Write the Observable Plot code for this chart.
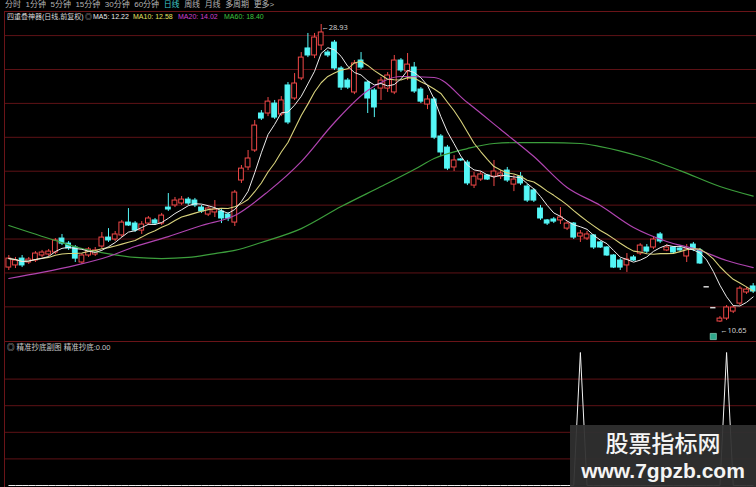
<!DOCTYPE html>
<html>
<head>
<meta charset="utf-8">
<script src="https://cdn.jsdelivr.net/npm/d3@7"></script>
<script src="https://cdn.jsdelivr.net/npm/@observablehq/plot@0.6"></script>
<style>
  html, body { margin: 0; padding: 0; background: #000; }
  #wrap { position: relative; width: 756px; height: 487px; background: #000; overflow: hidden;
          font-family: "Liberation Sans", "Noto Sans CJK SC", sans-serif; }
  .abs { position: absolute; white-space: nowrap; }
  #menu { left: 5px; top: 0px; font-size: 8px; line-height: 10px; color: #b4b4b4; }
  #menu span { margin-right: 4.5px; }
  #menu span.on { color: #3fcaca; }
  .hline { position: absolute; height: 1px; background: #6a1418; }
  .vline { position: absolute; width: 1px; background: #6a1418; }
  .leg { top: 12px; font-size: 7px; line-height: 9px; }
  #main { left: 0; top: 22px; }
  #sub { left: 0; top: 342px; }
  #subTitle { left: 7px; top: 343px; font-size: 7.5px; line-height: 9px; color: #c8c8c8; }
  #mark { left: 570px; top: 425px; width: 186px; height: 62px; background: rgba(48,48,48,0.94);
          color: #f4f4f4; text-align: center; }
  #mark .cn { position: absolute; left: 0; right: 0; top: 1px; font-family: "Noto Sans CJK SC", sans-serif;
              font-size: 23px; font-weight: 500; line-height: 32px; }
  #mark .url { position: absolute; left: 0; right: 0; top: 33px; font-family: "Liberation Sans", sans-serif;
               font-size: 21px; font-weight: bold; line-height: 26px; }
</style>
</head>
<body>
<div id="wrap">
  <div id="menu" class="abs"></div>
  <div class="hline" style="left:4px;right:0;top:11px;"></div>
  <div class="vline" style="left:4px;top:11px;height:476px;"></div>
  <div id="legend"></div>
  <div id="main" class="abs"></div>
  <div class="hline" style="left:4px;right:0;top:341px;"></div>
  <div id="sub" class="abs"></div>
  <div id="subTitle" class="abs"></div>
  <div id="mark" class="abs"><div class="cn">股票指标网</div><div class="url">www.7gpzb.com</div></div>
</div>
<script>
// Period menu
const menuItems = ["分时", "1分钟", "5分钟", "15分钟", "30分钟", "60分钟", "日线", "周线", "月线", "多周期", "更多>"];
const activePeriod = "日线";

// Daily candles
const opens = [14.02,14.15,14.57,14.33,14.45,14.76,14.82,14.94,15.80,15.49,
  15.25,14.33,14.76,14.82,15.31,15.86,15.74,15.99,16.78,16.72,
  16.29,16.72,16.91,16.72,17.70,17.83,17.95,18.19,18.13,17.70,
  17.27,17.40,17.46,17.27,16.78,19.36,20.16,21.20,23.47,23.47,
  24.08,23.41,25.19,24.39,25.62,27.46,27.03,27.64,27.21,27.82,
  26.23,25.49,24.76,26.72,25.37,24.88,25.00,25.00,24.76,26.72,
  26.05,26.29,24.94,24.02,24.33,22.06,21.38,20.16,20.65,20.46,
  19.05,19.42,19.67,19.60,19.60,19.97,19.11,19.60,18.99,18.75,
  17.64,16.91,16.97,16.91,16.41,16.72,15.92,15.80,15.99,15.56,
  15.25,14.76,14.45,14.15,14.64,14.88,15.25,15.25,16.05,15.07,
  15.25,15.19,14.70,15.43,15.07,12.84,11.56,10.71,10.89,11.32,
  11.81,12.49,12.86];
const closes = [14.57,14.45,14.15,14.51,14.88,14.94,15.00,15.68,15.49,15.19,
  14.57,14.76,15.13,15.07,15.86,15.68,16.05,16.78,16.60,16.29,
  16.66,17.03,16.72,17.21,17.58,18.13,18.19,17.95,17.83,17.46,
  17.64,17.58,17.03,17.03,18.62,20.09,20.71,22.73,23.16,24.20,
  23.22,24.27,22.92,25.31,26.90,27.03,28.13,28.44,27.03,26.23,
  25.06,25.06,26.54,26.29,24.39,23.84,25.49,25.80,26.72,26.11,
  26.47,24.82,24.20,24.33,21.99,21.08,20.09,20.59,20.59,19.18,
  19.60,19.73,19.42,19.91,19.79,19.36,19.42,19.18,18.13,18.13,
  17.03,16.72,16.84,17.09,16.72,15.86,16.11,16.05,15.25,15.25,
  14.76,14.02,14.02,14.51,14.45,15.37,15.00,15.74,15.62,15.25,
  14.94,15.07,15.13,15.13,14.27,12.84,11.56,10.89,11.57,11.57,
  12.73,12.67,12.55];
const highs = [14.76,14.64,14.76,14.64,15.00,15.07,15.13,15.80,16.05,15.62,
  15.37,14.88,15.25,15.25,16.17,16.41,16.23,16.91,17.64,16.84,
  16.84,17.15,17.03,17.34,18.56,18.32,18.38,18.32,18.26,17.83,
  17.76,18.13,17.58,17.40,18.75,20.28,21.20,23.04,23.65,24.45,
  24.27,24.51,25.37,25.92,27.21,28.38,28.38,28.93,27.33,27.95,
  26.35,25.62,26.72,27.21,25.49,25.00,25.68,25.98,27.03,26.84,
  27.15,26.60,25.06,24.57,24.45,22.18,21.51,20.89,20.71,20.59,
  19.85,19.91,19.73,20.59,19.97,20.16,19.67,19.85,19.11,18.87,
  17.83,16.97,17.09,17.70,16.84,16.78,16.29,16.23,16.05,15.62,
  15.31,14.82,14.57,14.88,14.76,15.49,15.43,15.92,16.17,15.43,
  15.31,15.31,15.43,15.56,15.19,12.84,11.56,11.01,11.69,11.69,
  12.86,12.80,13.04];
const lows = [13.84,13.96,14.02,14.21,14.33,14.64,14.70,14.82,15.37,15.07,
  14.33,14.21,14.64,14.70,15.19,15.56,15.62,15.86,16.54,16.17,
  16.05,16.60,16.60,16.60,17.46,17.70,17.83,17.83,17.70,17.34,
  17.15,17.09,16.72,16.84,16.54,19.18,19.97,21.08,23.04,23.28,
  23.10,23.28,22.79,24.27,25.49,26.90,26.84,27.33,26.90,26.11,
  24.88,24.94,24.63,26.17,23.47,23.22,24.27,24.76,24.63,25.98,
  25.49,24.70,24.08,23.71,21.87,20.83,19.97,19.91,20.52,19.05,
  18.87,19.30,19.36,18.99,19.42,19.24,18.68,19.05,18.01,18.01,
  16.91,16.60,16.72,16.66,16.29,15.74,15.56,15.68,15.13,15.19,
  14.70,13.96,13.84,13.72,14.39,14.76,14.88,15.13,15.49,15.00,
  14.88,15.00,14.33,15.00,14.21,12.84,11.56,10.65,10.77,11.20,
  11.69,12.37,12.43];

// MA20 / MA60 readings at selected bars (these averages reach back before the first bar shown)
const ma20Bars = [0,5,10,15,19,24,29,34,39,44,49,54,59,64,69,74,79,84,89,94,99,104,108,112];
const ma20Values = [13.35,13.72,14.15,14.70,15.31,15.92,16.60,17.21,18.68,20.52,22.92,24.88,25.74,25.68,24.14,22.49,20.83,18.93,17.83,16.48,15.62,15.07,14.45,14.02];
const ma60Bars = [0,7,11,14,19,23,27,31,34,38,44,50,56,61,64,69,73,77,81,86,89,95,101,107,112];
const ma60Values = [16.60,15.68,15.19,14.94,14.64,14.57,14.64,14.88,15.07,15.56,16.41,17.76,18.99,20.03,20.71,21.32,21.63,21.69,21.69,21.63,21.44,20.83,19.97,18.99,18.40];

// Horizontal guide levels of the price panel
const gridLevels = [28.25, 26.17, 24.09, 22.01, 19.93, 17.85, 15.77, 13.69, 11.61];

// Bottom-fishing signal in the lower panel
const signalBars = [86, 108];
const signalValues = [100, 100];
const subGridLevels = [20, 40, 60, 80];
const markerBars = [106];

const UP = "#f04848", DOWN = "#54f6f6", FLAT = "#d8d8d8", GRID = "#5e1216";
const C5 = "#ececec", C10 = "#d8d27c", C20 = "#b044b0", C60 = "#3c9e3c";

const N = closes.length;
const bars = d3.range(N).map(i => ({i, open: opens[i], close: closes[i], high: highs[i], low: lows[i]}));
const colorOf = d => d.close > d.open ? UP : d.close < d.open ? DOWN : FLAT;
const ma20 = ma20Bars.map((b, k) => ({i: b, v: ma20Values[k]}));
const ma60 = ma60Bars.map((b, k) => ({i: b, v: ma60Values[k]}));
const hiBar = bars.reduce((a, b) => b.high > a.high ? b : a);
const loBar = bars.reduce((a, b) => b.low < a.low ? b : a);

// Header rows
document.getElementById("menu").innerHTML = menuItems
  .map(t => `<span class="${t === activePeriod ? "on" : ""}">${t}</span>`).join("");

const fmt = d3.format(".2f");
const legendItems = [
  {text: "四重叠神器(日线,前复权)", color: "#d8d8d8", left: 7},
  {text: "◎", color: "#bdbdbd", left: 85},
  {text: "MA5: " + fmt(d3.mean(closes.slice(-5))), color: C5, left: 93},
  {text: "MA10: " + fmt(d3.mean(closes.slice(-10))), color: "#e4e062", left: 133},
  {text: "MA20: " + fmt(ma20Values[ma20Values.length - 1]), color: "#d040d0", left: 178},
  {text: "MA60: " + fmt(ma60Values[ma60Values.length - 1]), color: "#3fc43f", left: 224}
];
document.getElementById("legend").innerHTML = legendItems
  .map(d => `<div class="abs leg" style="left:${d.left}px;color:${d.color}">${d.text}</div>`).join("");

// Price panel
const mainChart = Plot.plot({
  width: 756, height: 320,
  marginLeft: 5, marginRight: 0, marginTop: 2, marginBottom: 20,
  style: {background: "transparent", overflow: "visible"},
  x: {domain: [-0.5, N - 0.5], axis: null},
  y: {domain: [loBar.low, hiBar.high], axis: null},
  marks: [
    Plot.ruleY(gridLevels, {stroke: GRID, strokeWidth: 1}),
    Plot.ruleX(bars, {x: "i", y1: "low", y2: "high", stroke: colorOf, strokeWidth: 1}),
    Plot.rect(bars.filter(d => d.open !== d.close), {
      x1: d => d.i - 0.36, x2: d => d.i + 0.36, y1: "open", y2: "close",
      fill: d => d.close > d.open ? "#000" : DOWN, stroke: colorOf, strokeWidth: 1
    }),
    Plot.ruleY(bars.filter(d => d.open === d.close), {
      y: "close", x1: d => d.i - 0.4, x2: d => d.i + 0.4, stroke: FLAT, strokeWidth: 1.5
    }),
    Plot.line(ma60, {x: "i", y: "v", stroke: C60, strokeWidth: 1.2, curve: "monotone-x"}),
    Plot.line(ma20, {x: "i", y: "v", stroke: C20, strokeWidth: 1.2, curve: "monotone-x"}),
    Plot.line(bars, Plot.windowY({k: 10, anchor: "end"}, {x: "i", y: "close", stroke: C10, strokeWidth: 1.1})),
    Plot.line(bars, Plot.windowY({k: 5, anchor: "end"}, {x: "i", y: "close", stroke: C5, strokeWidth: 1})),
    Plot.text([hiBar], {x: "i", y: "high", text: d => "←" + fmt(d.high), textAnchor: "start",
      dx: 0, dy: 3, fill: "#cfcfcf", fontSize: 7.5}),
    Plot.text([loBar], {x: "i", y: "low", text: d => "←" + fmt(d.low), textAnchor: "start",
      dx: 0, dy: 8, fill: "#cfcfcf", fontSize: 7.5}),
    Plot.dot(markerBars, {x: d => d, frameAnchor: "bottom", dy: 14, symbol: "square", r: 3.5,
      fill: "#2fa88c", stroke: "#9fe8d0", strokeWidth: 0.6})
  ]
});
document.getElementById("main").appendChild(mainChart);

// Indicator panel
const signal = d3.range(N).map(i => ({i, v: 0}));
signalBars.forEach((b, k) => { signal[b].v = signalValues[k]; });
document.getElementById("subTitle").textContent =
  "◎ 精准抄底副图  精准抄底:" + fmt(signal[N - 1].v);

const subChart = Plot.plot({
  width: 756, height: 145,
  marginLeft: 5, marginRight: 0, marginTop: 10, marginBottom: 2,
  style: {background: "transparent", overflow: "visible"},
  x: {domain: [-0.5, N - 0.5], axis: null},
  y: {domain: [0, 100], axis: null},
  marks: [
    Plot.ruleY(subGridLevels, {stroke: GRID, strokeWidth: 1}),
    Plot.line(signal, {x: "i", y: "v", stroke: "#f2f2f2", strokeWidth: 1})
  ]
});
document.getElementById("sub").appendChild(subChart);
</script>
</body>
</html>
